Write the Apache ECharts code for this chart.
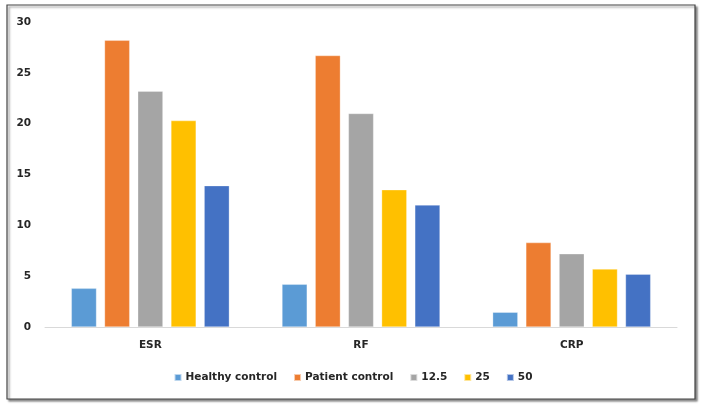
<!DOCTYPE html>
<html>
<head>
<meta charset="utf-8">
<script src="https://cdn.jsdelivr.net/npm/echarts@6/dist/echarts.min.js"></script>
<style>
html,body{margin:0;padding:0;background:#fff;}
#c{width:706px;height:408px;}
</style>
</head>
<body>
<div id="c"></div>
<script>
const categories = ['ESR', 'RF', 'CRP'];
const seriesNames = ['Healthy control', 'Patient control', '12.5', '25', '50'];
const healthyControl = [3.8, 4.2, 1.45];
const patientControl = [28.2, 26.7, 8.3];
const dose12_5 = [23.2, 21.0, 7.2];
const dose25 = [20.3, 13.5, 5.7];
const dose50 = [13.9, 12.0, 5.2];
const yTicks = [0, 5, 10, 15, 20, 25, 30];

const colors = ['#5B9BD5', '#ED7D31', '#A5A5A5', '#FFC000', '#4472C4'];
const values = [healthyControl, patientControl, dose12_5, dose25, dose50];

const chart = echarts.init(document.getElementById('c'));
const font = '"DejaVu Sans", sans-serif';
chart.setOption({
  animation: false,
  color: colors,
  graphic: [{
    type: 'rect',
    shape: { x: 7, y: 5, width: 688, height: 394 },
    style: { fill: '#fff', stroke: '#444', lineWidth: 1.2, shadowColor: 'rgba(0,0,0,0.45)', shadowOffsetX: 2, shadowOffsetY: 2, shadowBlur: 2 },
    z: -10, silent: true
  }],
  grid: { left: 45, right: 29, top: 22, bottom: 81 },
  legend: {
    data: seriesNames,
    bottom: 20,
    left: 'center',
    itemWidth: 7,
    itemHeight: 7,
    itemGap: 16,
    icon: 'rect',
    textStyle: { fontFamily: font, fontSize: 10.5, fontWeight: 'bold', color: '#262626', padding: [0, 0, 0, -1] }
  },
  xAxis: {
    type: 'category',
    data: categories,
    axisLine: { lineStyle: { color: '#D9D9D9', width: 1 } },
    axisTick: { show: false },
    axisLabel: { fontFamily: font, fontSize: 10.5, fontWeight: 'bold', color: '#262626', margin: 13 }
  },
  yAxis: {
    type: 'value',
    min: yTicks[0],
    max: yTicks[yTicks.length - 1],
    interval: 5,
    splitLine: { show: false },
    axisLine: { show: false },
    axisTick: { show: false },
    axisLabel: { fontFamily: font, fontSize: 10.5, fontWeight: 'bold', color: '#262626', margin: 14 }
  },
  series: seriesNames.map((n, i) => ({
    name: n,
    type: 'bar',
    data: values[i],
    barGap: '32%',
    barCategoryGap: '25%',
    itemStyle: { color: colors[i], borderColor: 'rgba(255,255,255,0.6)', borderWidth: 0.5 }
  }))
});
</script>
</body>
</html>
